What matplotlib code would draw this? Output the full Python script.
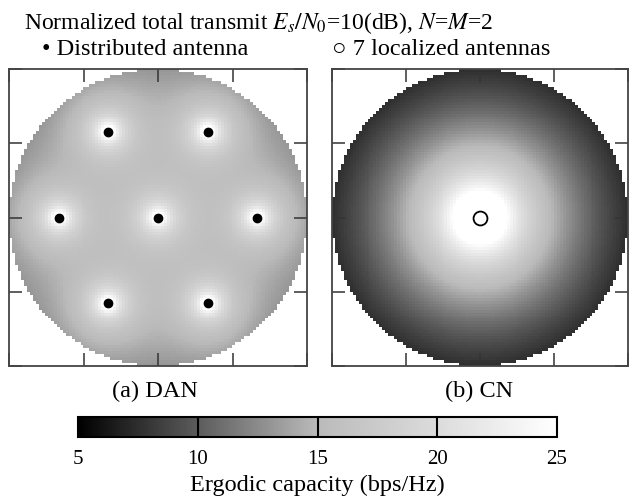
import numpy as np
import matplotlib
matplotlib.use('Agg')
import matplotlib.pyplot as plt
from matplotlib.colors import LinearSegmentedColormap

# ── data ──────────────────────────────────────────────────────────────────────
# antenna positions, normalised to the cell radius
DAN_X = [0.0, 0.667, 0.333, -0.333, -0.667, -0.333, 0.333]
DAN_Y = [0.0, 0.0, 0.577, 0.577, 0.0, -0.577, -0.577]
CN_X = [0.0]
CN_Y = [0.0]

N_STREAMS = 2          # N = M = 2
DAN_ALPHA, DAN_SNR = 2.0, 65.0    # path-loss exponent / received SNR scale
CN_ALPHA, CN_SNR = 3.6, 12.9
GRID = 100

CBAR_TICKS = [5, 10, 15, 20, 25]
CBAR_DIVS = [10, 15, 20]
VMIN, VMAX = 5, 25
# grey level at 5, 10, 15, 20, 25
CMAP_POS = [0.0, 0.25, 0.5, 0.75, 1.0]
CMAP_GREY = [0.0, 0.36, 0.73, 0.86, 1.0]

plt.rcParams.update({
    'font.family': ['Liberation Serif', 'DejaVu Sans'],
    'mathtext.fontset': 'stix',
    'font.size': 17.5,
})


def capacity_map(ant_x, ant_y, alpha, snr):
    xs = (np.arange(GRID) + 0.5) / GRID * 2 - 1
    X, Y = np.meshgrid(xs, xs)
    s = np.zeros_like(X)
    for x0, y0 in zip(ant_x, ant_y):
        d = np.maximum(np.hypot(X - x0, Y - y0), 0.02)
        s += d ** -alpha / len(ant_x)
    cap = N_STREAMS * np.log2(1 + snr * s)
    cap[X ** 2 + Y ** 2 > 1.0] = np.nan
    return cap


cmap = LinearSegmentedColormap.from_list(
    'capgrey', [(p, (g, g, g)) for p, g in zip(CMAP_POS, CMAP_GREY)])
cmap.set_bad('white')

W, H = 629, 502
fig = plt.figure(figsize=(W / 100, H / 100), dpi=100)
fig.patch.set_facecolor('white')


def px_axes(x0, y0, x1, y1):
    return fig.add_axes([x0 / W, 1 - y1 / H, (x1 - x0) / W, (y1 - y0) / H])


ax_a = px_axes(9, 70, 307, 367)
ax_b = px_axes(332, 70, 628, 367)

panels = [
    (ax_a, capacity_map(DAN_X, DAN_Y, DAN_ALPHA, DAN_SNR)),
    (ax_b, capacity_map(CN_X, CN_Y, CN_ALPHA, CN_SNR)),
]
for ax, cap in panels:
    im = ax.imshow(cap, extent=[-1, 1, -1, 1], origin='lower', cmap=cmap,
                   vmin=VMIN, vmax=VMAX, interpolation='nearest', aspect='auto')
    ax.set_xlim(-1, 1)
    ax.set_ylim(-1, 1)
    ax.set_xticks([-1, -0.5, 0, 0.5, 1])
    ax.set_yticks([-1, -0.5, 0, 0.5, 1])
    ax.tick_params(direction='in', length=9.5, width=1.1, color='#333333',
                   top=True, right=True, labelbottom=False, labelleft=False)
    for sp in ax.spines.values():
        sp.set_color('#444444')
        sp.set_linewidth(1.3)

ax_a.plot(DAN_X, DAN_Y, 'o', color='black', ms=6, zorder=5)
ax_b.plot(CN_X, CN_Y, 'o', mfc='none', mec='black', mew=1.3, ms=10, zorder=5)

# ── texts ─────────────────────────────────────────────────────────────────────
fig.text(24 / W, 1 - 29 / H,
         r'Normalized total transmit $E_s/N_0$=10(dB), $N$=$M$=2',
         ha='left', va='baseline', fontsize=17)
fig.text(42 / W, 1 - 55 / H, '\u2022 Distributed antenna',
         ha='left', va='baseline')
fig.text(332 / W, 1 - 55 / H, '\u25CB 7 localized antennas',
         ha='left', va='baseline')
fig.text(155 / W, 1 - 397 / H, '(a) DAN', ha='center', va='baseline')
fig.text(479 / W, 1 - 397 / H, '(b) CN', ha='center', va='baseline')

# ── colorbar ──────────────────────────────────────────────────────────────────
cax = px_axes(78, 418, 557, 438)
cb = fig.colorbar(im, cax=cax, orientation='horizontal')
cb.set_ticks(CBAR_TICKS)
cax.tick_params(length=0, pad=9, labelsize=15)
cb.outline.set_linewidth(1.5)
cb.outline.set_edgecolor('black')
for v in CBAR_DIVS:
    cax.axvline(v, color='black', lw=1.5)
cb.set_label('Ergodic capacity (bps/Hz)', fontsize=17.5, labelpad=4)

fig.savefig('out.png', dpi=100)
